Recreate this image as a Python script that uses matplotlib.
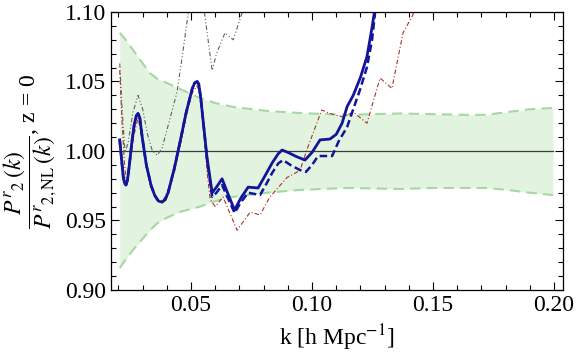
import matplotlib
matplotlib.use('Agg')
import matplotlib.pyplot as plt
from matplotlib.ticker import MultipleLocator

plt.rcParams['font.family'] = ['Liberation Serif', 'DejaVu Serif']
plt.rcParams['mathtext.fontset'] = 'stix'

# banda (erro) em torno de 1
k_banda = [0.0205, 0.023, 0.026, 0.030, 0.033, 0.036, 0.040, 0.045, 0.0537, 0.060,
           0.0674, 0.0814, 0.095, 0.114, 0.1364, 0.150, 0.164, 0.172, 0.1806, 0.190, 0.1996]
banda_sup = [1.085, 1.080, 1.0727, 1.063, 1.056, 1.052, 1.049, 1.045, 1.038, 1.0345,
             1.0317, 1.0288, 1.0273, 1.026, 1.027, 1.0265, 1.026, 1.026, 1.028, 1.030, 1.031]
banda_inf = [0.9158, 0.922, 0.9288, 0.937, 0.943, 0.948, 0.952, 0.956, 0.960, 0.964,
             0.967, 0.970, 0.972, 0.9734, 0.9727, 0.9734, 0.9734, 0.9734, 0.972, 0.970, 0.9683]

# curva azul continua
k_solido = [0.0205, 0.0212, 0.0220, 0.0226, 0.0231, 0.0237, 0.0245, 0.0255, 0.0265, 0.0274,
            0.0281, 0.0288, 0.0298, 0.0315, 0.0335, 0.0350, 0.0365, 0.038, 0.0393, 0.0405,
            0.043, 0.0455, 0.048, 0.0505, 0.0515, 0.0525, 0.0532, 0.0540, 0.0552, 0.0566,
            0.0587, 0.0605, 0.0628, 0.0655, 0.068, 0.0705, 0.0736, 0.0777, 0.0805, 0.0835,
            0.086, 0.0876, 0.090, 0.0935, 0.0971, 0.100, 0.1033, 0.1074, 0.110, 0.1124,
            0.1145, 0.117, 0.120, 0.1227, 0.1248, 0.1262]
y_solido = [1.008, 0.995, 0.981, 0.9765, 0.9755, 0.979, 0.990, 1.006, 1.019, 1.0255,
            1.027, 1.024, 1.010, 0.990, 0.975, 0.968, 0.964, 0.9633, 0.965, 0.970,
            0.987, 1.007, 1.028, 1.045, 1.049, 1.050, 1.048, 1.038, 1.018, 0.995,
            0.970, 0.974, 0.980, 0.968, 0.9575, 0.966, 0.974, 0.9734, 0.982, 0.9914,
            0.998, 1.0007, 0.999, 0.996, 0.9935, 0.999, 1.008, 1.0086, 1.012, 1.020,
            1.032, 1.040, 1.053, 1.068, 1.089, 1.105]

# curva azul tracejada
k_tracejado = [0.0205, 0.0212, 0.0220, 0.0226, 0.0231, 0.0237, 0.0245, 0.0255, 0.0265, 0.0274,
               0.0281, 0.0288, 0.0298, 0.0315, 0.0335, 0.0350, 0.0365, 0.038, 0.0393, 0.0405,
               0.043, 0.0455, 0.048, 0.0505, 0.0515, 0.0525, 0.0532, 0.0540, 0.0552, 0.0566,
               0.0587, 0.0605, 0.0628, 0.0655, 0.068, 0.0705, 0.0736, 0.0785, 0.081, 0.0835,
               0.086, 0.088, 0.091, 0.095, 0.0975, 0.100, 0.1025, 0.1083, 0.111, 0.1145,
               0.117, 0.1198, 0.1227, 0.1248, 0.1262]
y_tracejado = [1.008, 0.995, 0.981, 0.9765, 0.9755, 0.979, 0.990, 1.006, 1.019, 1.0255,
               1.027, 1.024, 1.010, 0.990, 0.975, 0.968, 0.964, 0.9633, 0.965, 0.970,
               0.987, 1.007, 1.028, 1.045, 1.049, 1.050, 1.048, 1.038, 1.018, 0.994,
               0.967, 0.970, 0.9755, 0.965, 0.9554, 0.963, 0.970, 0.9683, 0.976, 0.9842,
               0.991, 0.9935, 0.990, 0.9863, 0.985, 0.990, 0.9964, 0.9964, 1.007, 1.0173,
               1.030, 1.044, 1.0604, 1.080, 1.102]

# traco-ponto cinza
k_cinza = [0.0205, 0.0215, 0.0227, 0.0240, 0.026, 0.0281, 0.030, 0.032, 0.034, 0.036,
           0.038, 0.040, 0.0442, 0.0465, 0.0488, 0.052, 0.0545, 0.0558, 0.0587, 0.0605,
           0.064, 0.0674, 0.071, 0.073]
y_cinza = [1.063, 1.030, 0.999, 1.006, 1.028, 1.040, 1.030, 1.012, 1.000, 0.997,
           1.002, 1.015, 1.0425, 1.070, 1.099, 1.130, 1.115, 1.096, 1.058, 1.070,
           1.085, 1.080, 1.099, 1.115]

# traco-ponto vermelho
k_vermelho = [0.0205, 0.0215, 0.0225, 0.0233, 0.0245, 0.0262, 0.0281, 0.0298, 0.0315, 0.0335,
              0.0357, 0.038, 0.0405, 0.043, 0.0455, 0.048, 0.0505, 0.0525, 0.0538, 0.0552,
              0.0566, 0.0579, 0.060, 0.0632, 0.069, 0.0744, 0.0785, 0.0826, 0.0897, 0.095,
              0.0983, 0.104, 0.1074, 0.1128, 0.117, 0.1227, 0.1281, 0.133, 0.1376, 0.1417, 0.143]
y_vermelho = [1.058, 1.020, 0.990, 0.978, 0.988, 1.010, 1.024, 1.008, 0.988, 0.974,
              0.965, 0.9625, 0.972, 0.984, 1.004, 1.025, 1.042, 1.047, 1.040, 1.018,
              0.985, 0.965, 0.960, 0.967, 0.943, 0.956, 0.954, 0.967, 0.981, 0.986,
              1.003, 1.0295, 1.027, 1.0245, 1.028, 1.020, 1.0525, 1.045, 1.085, 1.098, 1.11]

fig = plt.figure(figsize=(5.76, 3.54), dpi=100)
ax = fig.add_axes([0.1927, 0.1808, 0.7847, 0.7853])

ax.fill_between(k_banda, banda_inf, banda_sup, color='#e2f4e0', lw=0)
ax.plot(k_banda, banda_sup, color='#a6d8a0', lw=1.5, dashes=(5, 3))
ax.plot(k_banda, banda_inf, color='#a6d8a0', lw=1.5, dashes=(5, 3))
ax.plot([0.0205, 0.1996], [1.0, 1.0], color='#3c3c3c', lw=0.9)

ax.plot(k_cinza, y_cinza, color='#606060', lw=0.8, dashes=(4, 2, 1, 2, 1, 2))
ax.plot(k_vermelho, y_vermelho, color='#a83228', lw=0.8, dashes=(4, 2, 1, 2))
ax.plot(k_tracejado, y_tracejado, color='#12149a', lw=1.8, dashes=(3, 1.5))
ax.plot(k_solido, y_solido, color='#12149a', lw=2.0)

ax.set_xlim(0.0169, 0.2037)
ax.set_ylim(0.90, 1.10)
ax.xaxis.set_major_locator(MultipleLocator(0.05))
ax.xaxis.set_minor_locator(MultipleLocator(0.01))
ax.yaxis.set_major_locator(MultipleLocator(0.05))
ax.yaxis.set_minor_locator(MultipleLocator(0.01))
ax.xaxis.set_major_formatter(plt.FuncFormatter(lambda v, p: f'{v:.2f}'))
ax.yaxis.set_major_formatter(plt.FuncFormatter(lambda v, p: f'{v:.2f}'))
ax.tick_params(which='both', direction='in', top=True, right=True, width=0.8, labelsize=17)
ax.tick_params(which='major', length=6)
ax.tick_params(which='minor', length=3.5)
for s in ax.spines.values():
    s.set_linewidth(0.9)

ax.set_xlabel(r'k [h Mpc$^{-1}$]', fontsize=17, labelpad=5)
ax.set_ylabel(r'$\dfrac{P^{r}{}_{2}\,(k)}{P^{r}{}_{2,\mathrm{NL}}\,(k)}$, z = 0', fontsize=17, labelpad=4)

fig.savefig('out.png', dpi=100)
